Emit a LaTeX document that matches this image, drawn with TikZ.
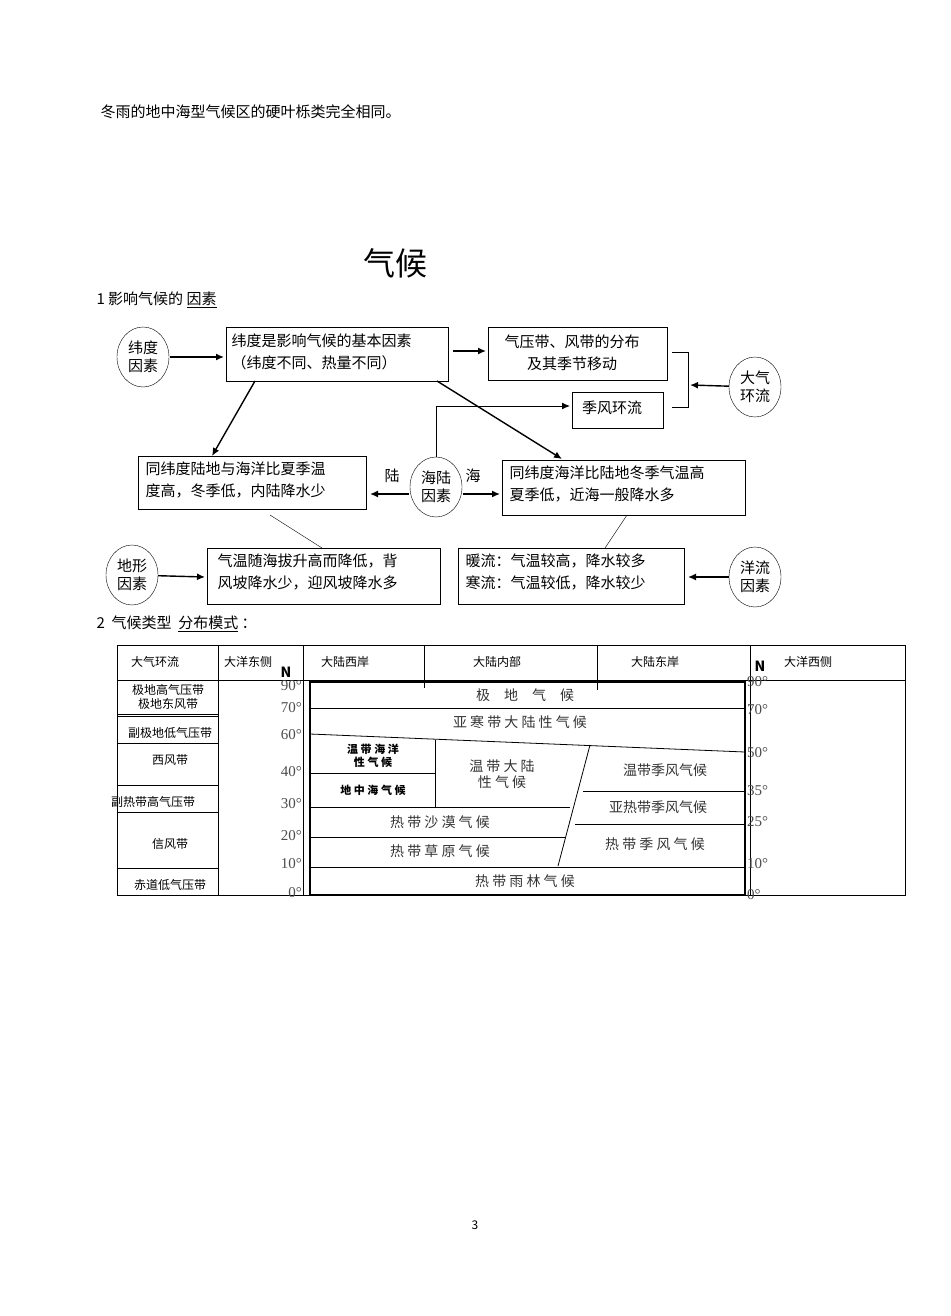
\documentclass[tikz,border=0pt]{standalone}
\usepackage{fontspec}
\setmainfont{Noto Sans CJK SC}
\newfontfamily\serifnum{Liberation Serif}
\usetikzlibrary{shapes.geometric,arrows.meta}
\begin{document}
\begin{tikzpicture}[x=1pt,y=-1pt,
  box/.style={draw,thick,inner sep=0,anchor=north west},
  ell/.style={draw,ellipse,minimum width=52pt,minimum height=60pt,inner sep=0,align=center,font=\fontsize{15}{18}\selectfont},
  arr/.style={-{Latex[length=8pt,width=7pt]},line width=1.4pt},
  ft/.style={font=\fontsize{15}{22}\selectfont},
  tt/.style={font=\fontsize{12}{14}\selectfont},
  ct/.style={font=\fontsize{14}{16}\selectfont,text=black!80},
  lat/.style={font=\serifnum\fontsize{15}{15}\selectfont,text=black!70,inner sep=0}]
\useasboundingbox (0,0) rectangle (950,1316);
\node[ft,anchor=west] (top) at (97,112) {冬雨的地中海型气候区的硬叶栎类完全相同。};
\node[font=\fontsize{32}{34}\selectfont] (title) at (395,263) {气候};
\node[ft,anchor=west] (h1) at (93,300) {1 影响气候的 \underline{因素}};
% flowchart
\node[ell] (e1) at (143,357) {纬度\\因素};
\draw[box] (226,327) rectangle (448,381);
\node[ft,anchor=north west,align=left] (t1) at (228,330) {纬度是影响气候的基本因素\\（纬度不同、热量不同）};
\draw[box] (488,327) rectangle (667,380);
\node[ft,align=center] (t2) at (572,353) {气压带、风带的分布\\及其季节移动};
\draw[box] (572,392) rectangle (663,428);
\node[ft] (t3) at (612,408) {季风环流};
\node[ell] (e2) at (755,387) {大气\\环流};
\draw[thick] (672,352) -- (688,352) -- (688,407) -- (672,407);
\coordinate (br) at (690,385);
\draw[arr] (e2) -- (br);
\coordinate (a1s) at (170,357); \coordinate (a1e) at (224,357);
\draw[arr] (a1s) -- (a1e);
\coordinate (a2s) at (453,351); \coordinate (a2e) at (486,351);
\draw[arr] (a2s) -- (a2e);
\draw[box] (138,456) rectangle (366,509);
\node[ft,anchor=north west,align=left] (t4) at (142,458) {同纬度陆地与海洋比夏季温\\度高，冬季低，内陆降水少};
\draw[box] (502,460) rectangle (745,515);
\node[ft,anchor=north west,align=left] (t5) at (506,462) {同纬度海洋比陆地冬季气温高\\夏季低，近海一般降水多};
\node[ell] (e3) at (436,487) {海陆\\因素};
\coordinate (m1) at (436,406); \coordinate (m2) at (570,406);
\draw[arr,line width=1pt] (e3.north) -- (m1) -- (m2);
\coordinate (d1s) at (255,381); \coordinate (d1e) at (212,456);
\draw[arr] (d1s) -- (d1e);
\coordinate (d2s) at (437,381); \coordinate (d2e) at (562,459);
\draw[arr] (d2s) -- (d2e);
\node[ft] (lu) at (392,476) {陆};
\node[ft] (hai) at (473,476) {海};
\coordinate (l1) at (409,494); \coordinate (l2) at (370,494);
\draw[arr] (l1) -- (l2);
\coordinate (r1) at (463,494); \coordinate (r2) at (500,494);
\draw[arr] (r1) -- (r2);
\draw[box] (207,548) rectangle (440,604);
\node[ft,anchor=north west,align=left] (t6) at (214,550) {气温随海拔升高而降低，背\\风坡降水少，迎风坡降水多};
\draw[box] (458,548) rectangle (684,604);
\node[ft,anchor=north west,align=left] (t7) at (462,550) {暖流：气温较高，降水较多\\寒流：气温较低，降水较少};
\coordinate (k1) at (270,515); \coordinate (k2) at (322,548);
\draw (k1) -- (k2);
\coordinate (k3) at (627,515); \coordinate (k4) at (605,548);
\draw (k3) -- (k4);
\node[ell] (e4) at (132,575) {地形\\因素};
\coordinate (g1) at (205,577);
\draw[arr] (e4) -- (g1);
\node[ell] (e5) at (755,577) {洋流\\因素};
\coordinate (g2) at (688,577);
\draw[arr] (e5) -- (g2);
\node[ft,anchor=west] (h2) at (93,624) {2 \ 气候类型 \ \underline{分布模式} ：};
% table
\draw (117,645) rectangle (905,895);
\draw (117,680) -- (905,680);
\foreach \x in {218,303,750} \draw (\x,645) -- (\x,895);
\draw (424,645) -- (424,688);
\draw (597,645) -- (597,690);
\foreach \y in {714,716,743,785,812,868} \draw (117,\y) -- (218,\y);
\node[tt] (c1) at (155,662) {大气环流};
\node[tt] (c2) at (248,662) {大洋东侧};
\node[tt] (c3) at (345,662) {大陆西岸};
\node[tt] (c4) at (497,662) {大陆内部};
\node[tt] (c5) at (655,662) {大陆东岸};
\node[tt] (c6) at (808,662) {大洋西侧};
\node[font=\bfseries\fontsize{14}{14}\selectfont,inner sep=0] (n1) at (286,672) {N};
\node[font=\bfseries\fontsize{14}{14}\selectfont,inner sep=0] (n2) at (760,666) {N};
\node[tt,align=center] (r1t) at (168,697) {极地高气压带\\极地东风带};
\node[tt] (r2t) at (170,733) {副极地低气压带};
\node[tt] (r3t) at (170,760) {西风带};
\node[tt] (r4t) at (153,802) {副热带高气压带};
\node[tt] (r5t) at (170,844) {信风带};
\node[tt] (r6t) at (170,885) {赤道低气压带};
\foreach \y/\l in {686/90,708/70,735/60,772/40,804/30,836/20,864/10,893/0}
  \node[lat,anchor=east] at (302,\y) {\l°};
\foreach \y/\l in {682/90,710/70,753/50,791/35,822/25,864/10,895/0}
  \node[lat,anchor=west] at (747,\y) {\l°};
% chart
\draw[very thick] (310,682) rectangle (745,895);
\draw[thick] (310,708) -- (745,708);
\draw[thick] (310,734) -- (745,752);
\draw[thick] (435,740) -- (435,807);
\draw[thick] (310,773) -- (435,773);
\draw[thick] (310,807) -- (570,807);
\draw[thick] (590,745) -- (558,866);
\draw[thick] (583,791) -- (745,791);
\draw[thick] (575,824) -- (745,824);
\draw[thick] (310,837) -- (566,837);
\draw[thick] (310,867) -- (745,867);
\node[ct] (z1) at (525,695) {极\quad 地\quad 气\quad 候};
\node[ct] (z2) at (520,722) {亚 寒 带 大 陆 性 气 候};
\node[font=\bfseries\fontsize{11}{13}\selectfont,align=center] (z3) at (373,756) {温 带 海 洋\\性 气 候};
\node[font=\bfseries\fontsize{11}{13}\selectfont] (z4) at (373,790) {地 中 海 气 候};
\node[ct,align=center] (z5) at (502,774) {温 带 大 陆\\性 气 候};
\node[ct] (z6) at (665,770) {温带季风气候};
\node[ct] (z7) at (658,807) {亚热带季风气候};
\node[ct] (z8) at (440,822) {热 带 沙 漠 气 候};
\node[ct] (z9) at (440,851) {热 带 草 原 气 候};
\node[ct] (z10) at (655,844) {热 带 季 风 气 候};
\node[ct] (z11) at (525,881) {热 带 雨 林 气 候};
\node[tt] (pg) at (475,1225) {3};
\end{tikzpicture}
\end{document}
